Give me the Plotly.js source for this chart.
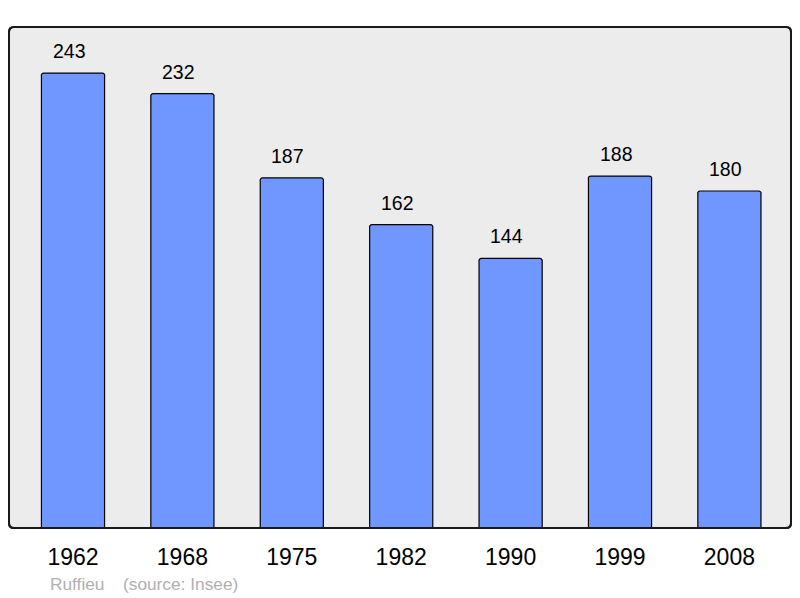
<!DOCTYPE html>
<html>
<head>
<meta charset="utf-8">
<script src="https://cdn.plot.ly/plotly-3.0.1.min.js"></script>
<style>body{margin:0;background:#fff}#chart{width:800px;height:598px}</style>
</head>
<body>
<div id="chart"></div>
<script>
var years = ["1962", "1968", "1975", "1982", "1990", "1999", "2008"];
var population = [243, 232, 187, 162, 144, 188, 180];
var footerCommune = "Ruffieu";
var footerSource = "(source: Insee)";

var W = 800, H = 598;
var M = {l: 9, r: 9, t: 27, b: 70};
var pw = W - M.l - M.r, ph = H - M.t - M.b;

var r = 5, rx = r / pw, ry = r / ph;
var framePath = 'M ' + rx + ',1 L ' + (1 - rx) + ',1 Q 1,1 1,' + (1 - ry) +
  ' L 1,' + ry + ' Q 1,0 ' + (1 - rx) + ',0 L ' + rx + ',0 Q 0,0 0,' + ry +
  ' L 0,' + (1 - ry) + ' Q 0,1 ' + rx + ',1 Z';

var annotations = years.map(function (y, i) {
  return {
    x: i, y: population[i], xref: 'x', yref: 'y',
    text: String(population[i]), showarrow: false,
    yanchor: 'bottom', yshift: 9, xshift: -4,
    font: {family: 'Liberation Sans, Arial, sans-serif', size: 19.5, color: '#000'}
  };
});
annotations.push({
  xref: 'paper', yref: 'paper', x: (48 - M.l) / pw, y: -(584 - M.t - ph) / ph,
  xanchor: 'left', yanchor: 'middle', showarrow: false, text: footerCommune,
  font: {family: 'Liberation Sans, Arial, sans-serif', size: 17.3, color: '#b0b0b0'}
});
annotations.push({
  xref: 'paper', yref: 'paper', x: (121 - M.l) / pw, y: -(584 - M.t - ph) / ph,
  xanchor: 'left', yanchor: 'middle', showarrow: false, text: footerSource,
  font: {family: 'Liberation Sans, Arial, sans-serif', size: 17.3, color: '#b0b0b0'}
});

var trace = {
  type: 'bar', x: years, y: population,
  width: 0.577,
  marker: {color: '#7096ff', line: {color: '#000', width: 1.2}, cornerradius: 3},
  hoverinfo: 'x+y'
};

var layout = {
  width: W, height: H,
  margin: M,
  paper_bgcolor: '#fff', plot_bgcolor: 'rgba(0,0,0,0)',
  showlegend: false,
  bargap: 0,
  xaxis: {
    type: 'category', range: [-0.585, 6.563],
    showgrid: false, zeroline: false, showline: false,
    ticks: 'outside', ticklen: 8, tickcolor: 'rgba(0,0,0,0)',
    tickfont: {family: 'Liberation Sans, Arial, sans-serif', size: 23, color: '#000'},
    fixedrange: true
  },
  yaxis: {
    range: [0, 267.6], showgrid: false, zeroline: false, showline: false,
    showticklabels: false, ticks: '', fixedrange: true
  },
  shapes: [{
    type: 'path', xref: 'paper', yref: 'paper', path: framePath,
    fillcolor: '#ececec', line: {color: '#1a1a1a', width: 2}, layer: 'below'
  }, {
    type: 'path', xref: 'paper', yref: 'paper', path: framePath,
    fillcolor: 'rgba(0,0,0,0)', line: {color: '#1a1a1a', width: 2}, layer: 'above'
  }],
  annotations: annotations
};

Plotly.newPlot('chart', [trace], layout, {displayModeBar: false, staticPlot: true});
</script>
</body>
</html>
